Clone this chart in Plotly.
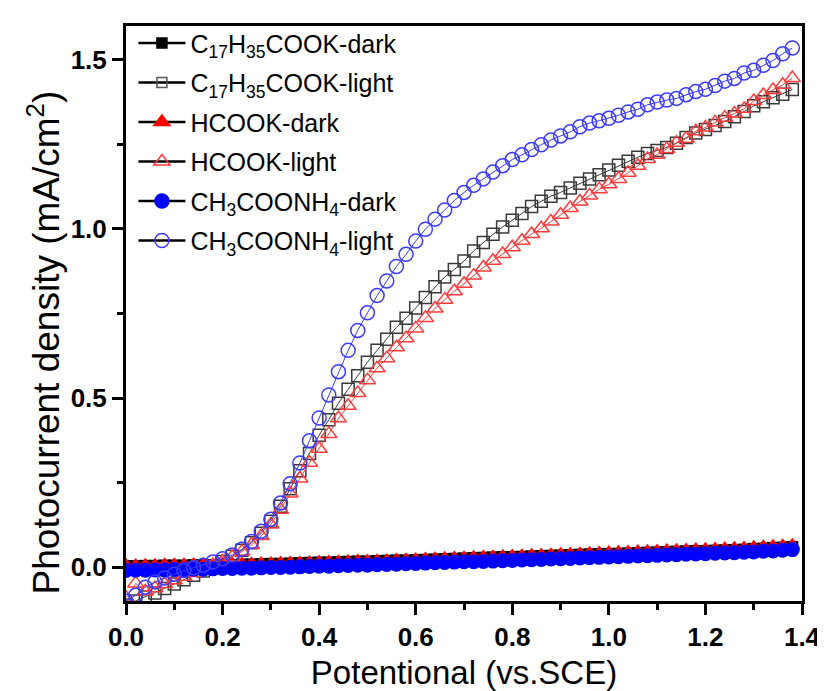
import plotly.graph_objects as go

# Potential (V vs. SCE)
potential = [0.00, 0.02, 0.04, 0.06, 0.08, 0.10, 0.12, 0.14, 0.16, 0.18,
             0.20, 0.22, 0.24, 0.26, 0.28, 0.30, 0.32, 0.34, 0.36, 0.38,
             0.40, 0.42, 0.44, 0.46, 0.48, 0.50, 0.52, 0.54, 0.56, 0.58,
             0.60, 0.62, 0.64, 0.66, 0.68, 0.70, 0.72, 0.74, 0.76, 0.78,
             0.80, 0.82, 0.84, 0.86, 0.88, 0.90, 0.92, 0.94, 0.96, 0.98,
             1.00, 1.02, 1.04, 1.06, 1.08, 1.10, 1.12, 1.14, 1.16, 1.18,
             1.20, 1.22, 1.24, 1.26, 1.28, 1.30, 1.32, 1.34, 1.36, 1.38]

c17_dark = [0.003, 0.003, 0.004, 0.004, 0.005, 0.005, 0.005, 0.006, 0.006, 0.006,
            0.007, 0.007, 0.008, 0.008, 0.009, 0.010, 0.010, 0.011, 0.012, 0.013,
            0.014, 0.014, 0.015, 0.016, 0.017, 0.017, 0.018, 0.019, 0.020, 0.020,
            0.021, 0.022, 0.023, 0.024, 0.025, 0.026, 0.027, 0.028, 0.029, 0.030,
            0.030, 0.031, 0.032, 0.033, 0.034, 0.035, 0.036, 0.037, 0.038, 0.039,
            0.039, 0.040, 0.041, 0.042, 0.043, 0.044, 0.045, 0.046, 0.047, 0.048,
            0.048, 0.049, 0.050, 0.051, 0.052, 0.054, 0.055, 0.057, 0.058, 0.060]

c17_light = [-0.112, -0.100, -0.088, -0.076, -0.063, -0.050, -0.037, -0.024, -0.011, 0.003,
             0.017, 0.032, 0.050, 0.072, 0.100, 0.136, 0.180, 0.232, 0.285, 0.336,
             0.390, 0.436, 0.485, 0.526, 0.566, 0.606, 0.641, 0.674, 0.709, 0.736,
             0.766, 0.797, 0.829, 0.858, 0.880, 0.905, 0.935, 0.960, 0.984, 1.006,
             1.026, 1.046, 1.066, 1.082, 1.097, 1.108, 1.121, 1.135, 1.148, 1.160,
             1.174, 1.188, 1.200, 1.212, 1.223, 1.232, 1.241, 1.253, 1.270, 1.284,
             1.294, 1.306, 1.318, 1.332, 1.347, 1.364, 1.376, 1.388, 1.398, 1.412]

hcook_dark = [0.008, 0.008, 0.009, 0.009, 0.010, 0.010, 0.010, 0.011, 0.011, 0.011,
              0.012, 0.012, 0.013, 0.013, 0.014, 0.014, 0.015, 0.015, 0.016, 0.017,
              0.018, 0.018, 0.019, 0.020, 0.021, 0.021, 0.022, 0.023, 0.024, 0.025,
              0.026, 0.027, 0.028, 0.029, 0.030, 0.031, 0.032, 0.033, 0.034, 0.035,
              0.036, 0.037, 0.038, 0.039, 0.040, 0.041, 0.042, 0.043, 0.044, 0.045,
              0.046, 0.047, 0.048, 0.049, 0.050, 0.051, 0.052, 0.053, 0.054, 0.055,
              0.056, 0.057, 0.058, 0.059, 0.060, 0.062, 0.063, 0.065, 0.066, 0.068]

hcook_light = [-0.090, -0.048, -0.072, -0.062, -0.050, -0.039, -0.028, -0.017, -0.006, 0.005,
               0.017, 0.030, 0.046, 0.066, 0.092, 0.126, 0.170, 0.218, 0.262, 0.309,
               0.350, 0.394, 0.440, 0.477, 0.515, 0.553, 0.588, 0.618, 0.650, 0.677,
               0.706, 0.737, 0.765, 0.791, 0.816, 0.838, 0.862, 0.886, 0.906, 0.926,
               0.946, 0.965, 0.985, 1.002, 1.022, 1.042, 1.062, 1.081, 1.099, 1.117,
               1.132, 1.148, 1.166, 1.187, 1.207, 1.219, 1.236, 1.255, 1.267, 1.289,
               1.300, 1.315, 1.329, 1.341, 1.355, 1.378, 1.396, 1.411, 1.426, 1.446]

nh4_dark = [-0.010, -0.009, -0.009, -0.008, -0.008, -0.007, -0.007, -0.006, -0.006, -0.005,
            -0.004, -0.004, -0.003, -0.003, -0.002, -0.001, -0.001, 0.000, 0.001, 0.002,
            0.003, 0.003, 0.004, 0.005, 0.006, 0.006, 0.007, 0.008, 0.009, 0.010,
            0.011, 0.012, 0.013, 0.014, 0.015, 0.016, 0.016, 0.017, 0.018, 0.019,
            0.020, 0.021, 0.022, 0.023, 0.024, 0.025, 0.026, 0.027, 0.028, 0.029,
            0.030, 0.031, 0.032, 0.033, 0.034, 0.035, 0.036, 0.037, 0.038, 0.039,
            0.040, 0.041, 0.042, 0.043, 0.044, 0.045, 0.047, 0.048, 0.050, 0.052]

nh4_light = [-0.100, -0.083, -0.059, -0.044, -0.032, -0.021, -0.010, -0.002, 0.006, 0.015,
             0.025, 0.036, 0.053, 0.076, 0.106, 0.142, 0.190, 0.247, 0.308, 0.374,
             0.441, 0.509, 0.578, 0.641, 0.700, 0.752, 0.803, 0.846, 0.889, 0.925,
             0.964, 0.999, 1.029, 1.056, 1.084, 1.108, 1.129, 1.148, 1.168, 1.187,
             1.205, 1.219, 1.235, 1.249, 1.263, 1.275, 1.287, 1.302, 1.313, 1.320,
             1.327, 1.336, 1.346, 1.354, 1.367, 1.375, 1.381, 1.386, 1.397, 1.406,
             1.413, 1.424, 1.437, 1.445, 1.461, 1.469, 1.484, 1.498, 1.518, 1.535]

names = ["C<sub>17</sub>H<sub>35</sub>COOK-dark",
         "C<sub>17</sub>H<sub>35</sub>COOK-light",
         "HCOOK-dark",
         "HCOOK-light",
         "CH<sub>3</sub>COONH<sub>4</sub>-dark",
         "CH<sub>3</sub>COONH<sub>4</sub>-light"]

x_title = "Potentional (vs.SCE)"
y_title = "Photocurrent density (mA/cm<sup>2</sup>)"

series = [c17_dark, c17_light, hcook_dark, hcook_light, nh4_dark, nh4_light]

styles = [
    dict(symbol="square", color="#000000", open=False, size=12),
    dict(symbol="square-open", color="#3a3a3a", open=True, size=12),
    dict(symbol="triangle-up", color="#ff0000", open=False, size=13),
    dict(symbol="triangle-up-open", color="#ff3b3b", open=True, size=14),
    dict(symbol="circle", color="#0000ff", open=False, size=15),
    dict(symbol="circle-open", color="#3b3bff", open=True, size=14),
]

FONT = "Liberation Sans, Arial, sans-serif"

fig = go.Figure()

for name, ys, st in zip(names, series, styles):
    fig.add_trace(go.Scatter(
        x=potential, y=ys, mode="lines+markers", name=name, showlegend=False,
        line=dict(color=st["color"], width=1),
        marker=dict(symbol=st["symbol"], size=st["size"], color=st["color"],
                    line=dict(color=st["color"], width=1.5 if st["open"] else 0)),
    ))

# legend entries (black connecting line, coloured marker as in the original)
leg_styles = [
    dict(symbol="square", color="#000000", size=10),
    dict(symbol="square-open", color="#555555", size=10),
    dict(symbol="triangle-up", color="#ff0000", size=14),
    dict(symbol="triangle-up-open", color="#ff3b3b", size=14),
    dict(symbol="circle", color="#0000ff", size=14),
    dict(symbol="circle-open", color="#3b3bff", size=14),
]
for i, (name, st) in enumerate(zip(names, leg_styles)):
    fig.add_trace(go.Scatter(
        x=[None], y=[None], mode="lines+markers", name=name,
        legendgroup=f"g{i}",
        line=dict(color="black", width=2.5),
        marker=dict(symbol=st["symbol"], size=st["size"], color=st["color"],
                    line=dict(color=st["color"], width=1.5)),
    ))

axis_common = dict(
    showline=True, linecolor="black", linewidth=3, mirror=True,
    ticks="outside", ticklen=11, tickwidth=2.5, tickcolor="black",
    showgrid=False, zeroline=False, ticklabeloverflow="allow",
    tickfont=dict(family=FONT, size=26, color="black", weight="bold"),
)

fig.update_xaxes(
    range=[0, 1.4], dtick=0.2, tickformat=".1f",
    minor=dict(ticks="outside", ticklen=6, tickwidth=2.5, tickcolor="black", dtick=0.1),
    title=dict(text=x_title, standoff=10,
               font=dict(family=FONT, size=33, color="black")),
    **axis_common,
)
fig.update_yaxes(
    range=[-0.1, 1.6], tickvals=[0.0, 0.5, 1.0, 1.5], ticktext=["0.0", "0.5", "1.0", "1.5"],
    minor=dict(ticks="outside", ticklen=6, tickwidth=2.5, tickcolor="black",
               tickvals=[0.25, 0.75, 1.25]),
    **axis_common,
)

# y-axis title placed as in the original (slightly below the plot centre)
fig.add_annotation(
    text=y_title, textangle=-90, showarrow=False,
    xref="paper", yref="paper", x=-0.121, y=0.45, xanchor="center", yanchor="middle",
    font=dict(family=FONT, size=37, color="black"),
)

fig.update_layout(
    width=825, height=691,
    margin=dict(l=118, r=18, t=12, b=98),
    plot_bgcolor="white", paper_bgcolor="white",
    legend=dict(x=0.011, y=1.01, xanchor="left", yanchor="top",
                bgcolor="rgba(0,0,0,0)", borderwidth=0,
                font=dict(family=FONT, size=25, color="black"),
                tracegroupgap=4, itemwidth=47),
)

fig.write_html("out.html")
